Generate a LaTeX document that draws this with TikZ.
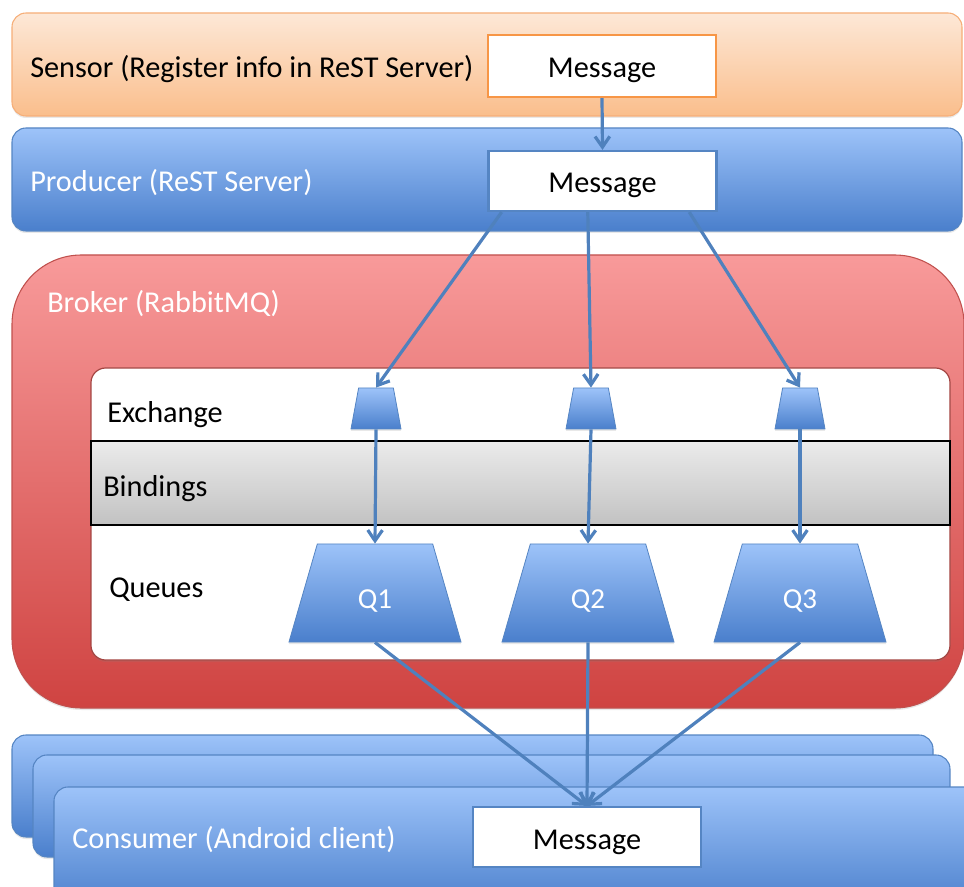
\documentclass[tikz,border=0pt]{standalone}
\usepackage{fontspec}
\setmainfont{Carlito}
\usetikzlibrary{shapes.geometric,arrows.meta,calc,shadows}

\definecolor{lineblue}{HTML}{4F81BD}
\definecolor{blueTop}{HTML}{9DC3F9}
\definecolor{blueBot}{HTML}{4A7FCC}
\definecolor{blueEdge}{HTML}{5585C3}
\definecolor{peachTop}{HTML}{FDE8D7}
\definecolor{peachBot}{HTML}{FABE8C}
\definecolor{peachEdge}{HTML}{F6AE78}
\definecolor{orangeEdge}{HTML}{F79646}
\definecolor{redTop}{HTML}{F89A9A}
\definecolor{redBot}{HTML}{CF4341}
\definecolor{redEdge}{HTML}{C0504D}
\definecolor{greyTop}{HTML}{EBEBEB}
\definecolor{greyBot}{HTML}{C2C2C2}

\tikzset{
  bigfont/.style={font=\fontsize{22.7}{27}\selectfont},
  qfont/.style={font=\fontsize{21.75}{26}\selectfont},
  soft/.style={drop shadow={opacity=0.18,shadow xshift=0pt,shadow yshift=-1.5pt}},
  peachbar/.style={rectangle,rounded corners=10.5pt,draw=peachEdge,line width=0.8pt,
    top color=peachTop,bottom color=peachBot,inner sep=0pt,soft},
  bluebar/.style={rectangle,rounded corners=10.5pt,draw=blueEdge,line width=0.8pt,
    top color=blueTop,bottom color=blueBot,inner sep=0pt,soft},
  redbox/.style={rectangle,rounded corners=52pt,draw=redEdge,line width=0.8pt,
    top color=redTop,bottom color=redBot,inner sep=0pt,soft},
  whitebox/.style={rectangle,rounded corners=11pt,draw=redEdge!85!black,line width=0.9pt,
    fill=white,inner sep=0pt,soft},
  greyband/.style={rectangle,draw=black,line width=1pt,top color=greyTop,bottom color=greyBot,inner sep=0pt},
  msgbox/.style={rectangle,fill=white,line width=1.6pt,inner sep=0pt,minimum width=171pt,minimum height=45pt},
  trap/.style={trapezium,draw=blueEdge,line width=0.6pt,top color=blueTop,bottom color=blueBot,
    inner sep=1pt,trapezium stretches=true,soft},
  extrap/.style={trap,minimum width=37.5pt,minimum height=30.75pt,
    trapezium left angle=77.6,trapezium right angle=77.6},
  qtrap/.style={trap,minimum width=129pt,minimum height=73.5pt,
    trapezium left angle=76.2,trapezium right angle=76.2},
  dark/.style={bigfont,text=black,inner sep=0pt},
  light/.style={bigfont,text=white,inner sep=0pt},
  conn/.style={draw=lineblue,line width=2.4pt,-{Straight Barb[length=8pt,width=11pt,line width=2.4pt]}},
}

\begin{document}
\begin{tikzpicture}[x=0.75pt,y=-0.75pt]
\useasboundingbox (0,0) rectangle (964,887);

% Sensor layer
\node[peachbar,minimum width=712.5pt,minimum height=77.25pt] (sensor) at (487,64.5) {};
\node[dark,anchor=base west] (sensorlbl) at (30,78) {Sensor (Register info in ReST Server)};
\node[msgbox,draw=orangeEdge,minimum height=46.5pt] (smsg) at (602,66) {};
\node[dark,anchor=base] (smsgtxt) at (602,78) {Message};

% Producer layer
\node[bluebar,minimum width=712.5pt,minimum height=77.25pt] (producer) at (487,179.5) {};
\node[light,anchor=base west] (prodlbl) at (30,192) {Producer (ReST Server)};
\node[msgbox,draw=blueEdge] (pmsg) at (602.5,181) {};
\node[dark,anchor=base] (pmsgtxt) at (602.5,193) {Message};

% Broker
\node[redbox,minimum width=714pt,minimum height=339.75pt] (broker) at (488,481.5) {};
\node[light,anchor=base west] (brokerlbl) at (47,313) {Broker (RabbitMQ)};
\node[whitebox,minimum width=644.25pt,minimum height=219pt] (inner) at (520.5,514) {};
\node[greyband,minimum width=644.25pt,minimum height=63pt] (bindings) at (520.5,483) {};
\node[dark,anchor=base west] (exlbl) at (107,423) {Exchange};
\node[dark,anchor=base west] (bindlbl) at (103,497) {Bindings};
\node[dark,anchor=base west] (qlbl) at (109,598) {Queues};

% Exchanges
\node[extrap] (ex1) at (376,408.5) {};
\node[extrap] (ex2) at (591,408.5) {};
\node[extrap] (ex3) at (800,408.5) {};

% Queues
\node[qtrap] (q1) at (375,593) {};
\node[qtrap] (q2) at (588,593) {};
\node[qtrap] (q3) at (800,593) {};
\node[light,qfont,anchor=base] (q1t) at (375,609) {Q1};
\node[light,qfont,anchor=base] (q2t) at (588,609) {Q2};
\node[light,qfont,anchor=base] (q3t) at (800,609) {Q3};

% Consumers (stacked)
\node[bluebar,minimum width=690.75pt,minimum height=76.5pt] (cons3) at (472.5,786) {};
\node[bluebar,minimum width=687.75pt,minimum height=76.5pt] (cons2) at (491.5,806) {};
\node[bluebar,minimum width=702pt,minimum height=92.25pt] (cons1) at (522,848.5) {};
\node[light,anchor=base west] (conslbl) at (72,848) {Consumer (Android client)};
\node[msgbox,draw=blueEdge] (cmsg) at (587,837) {};
\node[dark,anchor=base] (cmsgtxt) at (587,849) {Message};

% Connectors
\draw[conn] (smsg.south) -- (pmsg.north);
\draw[conn] ($(pmsg.south west)!0.062!(pmsg.south east)$) -- (ex1.north);
\draw[conn] ($(pmsg.south west)!0.436!(pmsg.south east)$) -- (ex2.north);
\draw[conn] ($(pmsg.south west)!0.877!(pmsg.south east)$) -- (ex3.north);
\draw[conn] (ex1.south) -- (q1.north);
\draw[conn] (ex2.south) -- (q2.north);
\draw[conn] (ex3.south) -- (q3.north);
\draw[conn] (q1.south) -- (cmsg.north);
\draw[conn] (q2.south) -- (cmsg.north);
\draw[conn] (q3.south) -- (cmsg.north);
\end{tikzpicture}
\end{document}
